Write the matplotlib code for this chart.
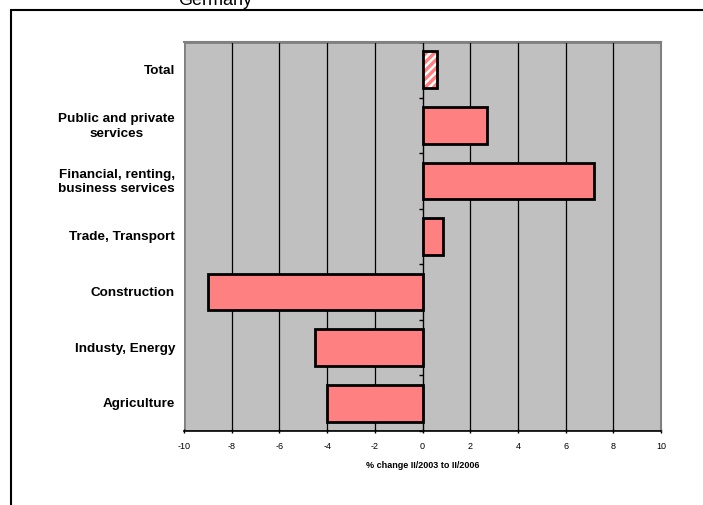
import matplotlib.pyplot as plt
from matplotlib.patches import Rectangle

# -- Sector growth, % change II/2003 to II/2006
sectors = ['Agriculture', 'Industy, Energy', 'Construction', 'Trade, Transport',
           'Financial, renting,\nbusiness services', 'Public and private\nservices', 'Total']
change = [-4.0, -4.5, -9.0, 0.85, 7.2, 2.7, 0.6]

plt.rcParams['font.family'] = ['Liberation Sans', 'DejaVu Sans']
plt.rcParams['axes.unicode_minus'] = False

fig = plt.figure(figsize=(7.03, 5.06), dpi=100)

# -- Outer chart border and title
fig.patches.append(Rectangle((11 / 703, -0.05), 1.0, 1 - 11 / 506 + 0.05,
                             transform=fig.transFigure, fill=False,
                             edgecolor='black', linewidth=1.5, clip_on=False))
fig.text(215 / 703, 1 - 5 / 506, 'Germany', ha='center', va='baseline', fontsize=13)

ax = fig.add_axes([184 / 703, 1 - 432 / 506, 477 / 703, 389 / 506])
ax.set_facecolor('#C0C0C0')

pos = list(range(len(sectors)))
normal = [i for i in pos if sectors[i] != 'Total']
tot = sectors.index('Total')

ax.barh([pos[i] for i in normal], [change[i] for i in normal], height=0.66,
        color='#FF8080', edgecolor='black', linewidth=2, zorder=3)

# -- Total bar: white stripes, then the outline on top
plt.rcParams['hatch.linewidth'] = 1.8
ax.barh(pos[tot], change[tot], height=0.66, color='#FF8080', edgecolor='white',
        hatch='////', linewidth=0, zorder=3)
ax.barh(pos[tot], change[tot], height=0.66, fill=False, edgecolor='black',
        linewidth=2, zorder=4)

ax.set_xlim(-10, 10)
ax.set_ylim(-0.5, len(sectors) - 0.5)
ax.set_xticks(range(-10, 11, 2))
ax.tick_params(axis='x', labelsize=6.5, length=3, width=1, direction='inout', pad=6)

for x in range(-8, 10, 2):
    if x != 0:
        ax.axvline(x, color='black', linewidth=0.9, zorder=1)

# -- Category axis crosses at zero, ticks between categories
ax.spines['left'].set_position(('data', 0))
ax.spines['left'].set_linewidth(1)
ax.spines['left'].set_zorder(2)
ax.set_yticks([p - 0.5 for p in pos] + [len(sectors) - 0.5])
ax.set_yticklabels([])
ax.tick_params(axis='y', length=3, width=1, direction='out')
ax.spines['bottom'].set_linewidth(1.2)

for s in ['top', 'right']:
    ax.spines[s].set_color('#808080')
    ax.spines[s].set_linewidth(1.5)

# -- Left border of the plot area
ax.add_patch(Rectangle((0, 0), 1, 1, transform=ax.transAxes, fill=False,
                       edgecolor='#808080', linewidth=2, zorder=0.5))

for p, name in zip(pos, sectors):
    ax.text(-9 / 477, p, name, transform=ax.get_yaxis_transform(), ha='right',
            va='center', multialignment='center', fontsize=9.7, fontweight='bold',
            linespacing=1.3)

ax.set_xlabel('% change II/2003 to II/2006', fontsize=6.5, fontweight='bold', labelpad=7)

fig.savefig('out.png', dpi=100)
